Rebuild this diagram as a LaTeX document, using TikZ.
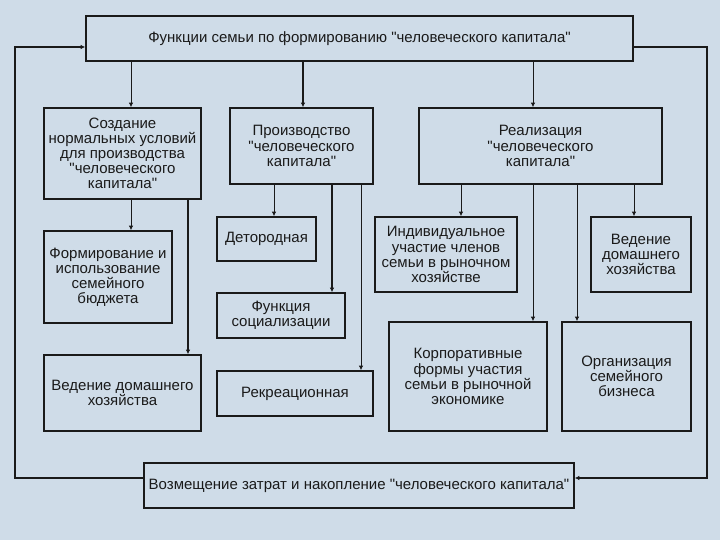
\documentclass[tikz,border=0pt]{standalone}
\usepackage{fontspec}
\setmainfont{Liberation Sans}[Ligatures=TeXOff]
\usepackage{xcolor}
\usepackage{tikz}
\usetikzlibrary{arrows.meta}
\definecolor{bgc}{HTML}{CFDCE8}
\definecolor{ink}{HTML}{1A1A1A}

\tikzset{
  box/.style={draw=ink,line width=1.3pt,fill=bgc,align=center,inner sep=1pt,text=ink,
    font=\fontsize{12.8}{12.9}\selectfont},
  sz/.style 2 args={minimum width=#1*0.03cm,minimum height=#2*0.03cm},
  thinarr/.style={draw=ink,line width=0.8pt,-{Latex[length=4pt,width=4pt]}},
  thickarr/.style={draw=ink,line width=1.6pt,-{Latex[length=4pt,width=4pt]}}
}

\begin{document}
\begin{tikzpicture}[x=0.03cm,y=-0.03cm]
  \fill[bgc] (0,0) rectangle (720,540);
  % upper level
  \node[box,sz={547}{45}] (funk) at (359.5,38.5) {Функции семьи по формированию "человеческого капитала"};
  \node[box,sz={157}{91}] (sozd) at (122.5,153.5) {Создание\\нормальных условий\\для производства\\"человеческого\\капитала"};
  \node[box,sz={143}{76}] (proiz) at (301.5,146) {Производство\\"человеческого\\капитала"};
  \node[box,sz={243}{76}] (real) at (540.5,146) {Реализация\\"человеческого\\капитала"};
  % left column
  \node[box,sz={128}{92}] (budzh) at (108,277) {Формирование и\\использование\\семейного\\бюджета};
  \node[box,sz={157}{76}] (hoz) at (122.5,393) {Ведение домашнего\\хозяйства};
  % middle column
  \node[box,sz={99}{44}] (detor) at (266.5,239) {Детородная};
  \node[box,sz={128}{45}] (soc) at (281,315.5) {Функция\\социализации};
  \node[box,sz={156}{45}] (rekr) at (295,393.5) {Рекреационная};
  % right column
  \node[box,sz={142}{75}] (indiv) at (446,254.5) {Индивидуальное\\участие членов\\семьи в рыночном\\хозяйстве};
  \node[box,sz={100}{75}] (domhoz) at (641,254.5) {Ведение\\домашнего\\хозяйства};
  \node[box,sz={158}{109}] (korp) at (468,376.5) {Корпоративные\\формы участия\\семьи в рыночной\\экономике};
  \node[box,sz={129}{109}] (biz) at (626.5,376.5) {Организация\\семейного\\бизнеса};
  % bottom
  \node[box,sz={430}{45}] (vozm) at (359,485.5) {Возмещение затрат и накопление "человеческого капитала"};

  \foreach \x/\a/\b in {131/funk/sozd,533/funk/real,131/sozd/budzh,274/proiz/detor,361/proiz/rekr,
      461/real/indiv,533/real/korp,577/real/biz,634/real/domhoz}{
    \draw[thinarr] (\a.south -| \x,0) -- (\b.north -| \x,0);}
  \foreach \x/\a/\b in {303/funk/proiz,188/sozd/hoz,332/proiz/soc}{
    \draw[thickarr] (\a.south -| \x,0) -- (\b.north -| \x,0);}

  \draw[thickarr] (vozm.west |- 0,478) -- (15,478) -- (15,47) -- (funk.west |- 0,47);
  \draw[thinarr,line width=1.1pt] (funk.east |- 0,47) -- (707,47) -- (707,478) -- (vozm.east |- 0,478);
\end{tikzpicture}
\end{document}
